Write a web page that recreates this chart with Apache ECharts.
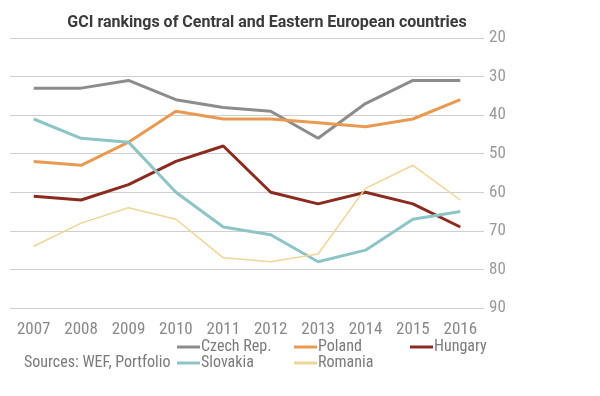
<!DOCTYPE html>
<html>
<head>
<meta charset="utf-8">
<script src="https://cdn.jsdelivr.net/npm/echarts@6/dist/echarts.min.js"></script>
<style>
  html, body { margin: 0; padding: 0; background: #fff; }
  #chart { width: 600px; height: 396px; }
</style>
</head>
<body>
<div id="chart"></div>
<script>
// years and GCI ranks
var years = ['2007', '2008', '2009', '2010', '2011', '2012', '2013', '2014', '2015', '2016'];
var czech = [33, 33, 31, 36, 38, 39, 46, 37, 31, 31];
var poland = [52, 53, 47, 39, 41, 41, 42, 43, 41, 36];
var hungary = [61, 62, 58, 52, 48, 60, 63, 60, 63, 69];
var slovakia = [41, 46, 47, 60, 69, 71, 78, 75, 67, 65];
var romania = [74, 68, 64, 67, 77, 78, 76, 59, 53, 62];

var narrow = '"Roboto Condensed", "Liberation Sans Narrow", "DejaVu Sans Condensed", Roboto';

var chart = echarts.init(document.getElementById('chart'));

function line(name, data, color, width) {
  return {
    name: name,
    type: 'line',
    data: data,
    symbol: 'none',
    lineStyle: { color: color, width: width },
    itemStyle: { color: color }
  };
}

var legendBase = {
  orient: 'vertical',
  icon: 'rect',
  padding: 0,
  itemWidth: 23,
  itemHeight: 3,
  itemGap: 0,
  top: 339,
  textStyle: { color: '#7a7a7a', fontSize: 16, lineHeight: 16, fontFamily: narrow, padding: [0, 0, 0, -4] }
};

var option = {
  animation: false,
  title: {
    text: 'GCI rankings of Central and Eastern European countries',
    left: 262,
    textAlign: 'center',
    top: 10,
    textStyle: { color: '#3a3a3a', fontSize: 16, fontWeight: 'bold', fontFamily: 'Roboto' }
  },
  graphic: [{
    type: 'text',
    left: 24,
    top: 355,
    style: { text: 'Sources: WEF, Portfolio', fill: '#7a7a7a', font: '16px ' + narrow }
  }],
  legend: [
    Object.assign({}, legendBase, { left: 177, data: ['Czech Rep.', 'Slovakia'] }),
    Object.assign({}, legendBase, { left: 294, data: ['Poland', 'Romania'] }),
    Object.assign({}, legendBase, { left: 410, data: ['Hungary'] })
  ],
  grid: { left: 10, right: 116, top: 38, bottom: 88 },
  xAxis: {
    type: 'category',
    data: years,
    boundaryGap: true,
    axisLine: { show: false },
    axisTick: { show: false },
    axisLabel: { color: '#888', fontSize: 17, fontFamily: narrow, margin: 13 }
  },
  yAxis: {
    type: 'value',
    position: 'right',
    inverse: true,
    min: 20,
    max: 90,
    interval: 10,
    axisLine: { show: false },
    axisTick: { show: false },
    axisLabel: { color: '#999', fontSize: 17, fontFamily: narrow, margin: 5 },
    splitLine: { lineStyle: { color: '#cfcfcf', width: 1 } }
  },
  series: [
    line('Czech Rep.', czech, '#8c8c8c', 3),
    line('Poland', poland, '#e99a52', 3),
    line('Hungary', hungary, '#8b2a1f', 3),
    line('Slovakia', slovakia, '#8dc4c6', 3),
    line('Romania', romania, '#efd597', 1.5)
  ]
};

chart.setOption(option);
</script>
</body>
</html>
